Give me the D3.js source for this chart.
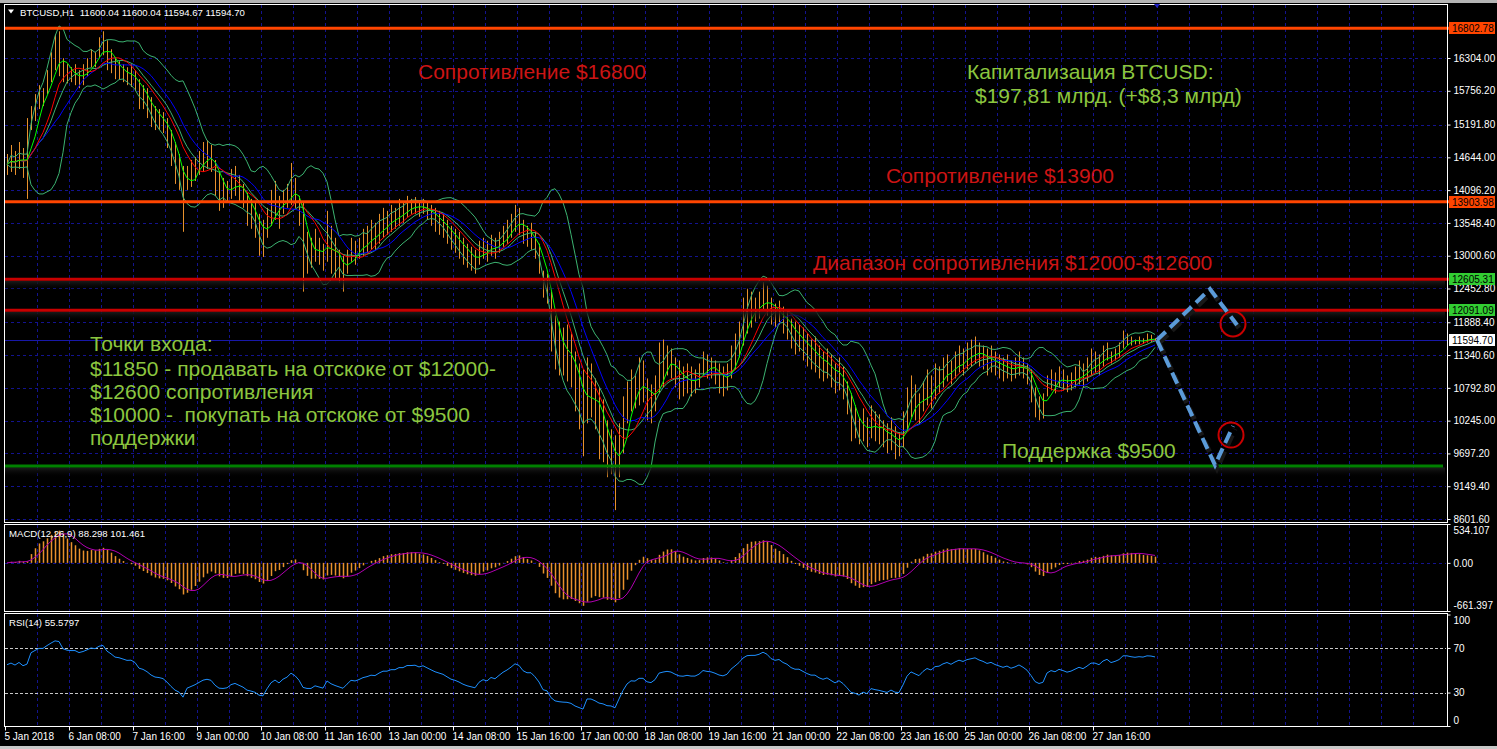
<!DOCTYPE html>
<html><head><meta charset="utf-8">
<script src="https://cdn.jsdelivr.net/npm/d3@7"></script>
<style>
html,body{margin:0;padding:0;background:#000;}
svg{display:block;font-family:"Liberation Sans",Arial,sans-serif;}
text{white-space:pre;}
</style></head><body>
<svg id="c" width="1497" height="749"></svg>
<script>
// ---------------- DATA ----------------
const headerText = "BTCUSD,H1  11600.04 11600.04 11594.67 11594.70";
const macdLabel = "MACD(12,26,9) 88.298 101.461";
const rsiLabel = "RSI(14) 55.5797";
const barHours = 2; // each drawn bar = 2 hours, starting 5 Jan 2018 00:00
const barHigh = [
14700,14850,14750,14900,14800,15300,15500,15700,15850,15800,
16100,16400,16700,16750,16300,16200,16150,16200,16100,16200,
16300,16450,16400,16650,16750,16600,16450,16300,16250,16200,
16150,16200,16100,15950,15850,15800,15650,15500,15450,15400,
15300,15100,14900,14700,14500,14500,14600,14650,14750,14900,
14930,14850,14600,14400,14300,14250,14450,14500,14350,14200,
14050,13950,13900,13700,13600,13800,14100,14250,14000,14100,
14200,14550,14300,14000,13900,13400,13300,13450,13300,13200,
13750,13500,13300,13100,13000,13100,13300,13250,13300,13450,
13500,13600,13550,13700,13800,13750,13850,13800,13950,13900,
14000,13950,13980,13900,13950,13900,13850,13800,13750,13700,
13600,13500,13450,13400,13300,13200,13150,13100,13250,13300,
13250,13350,13300,13400,13500,13600,13700,13850,13800,13600,
13500,13550,13400,13200,12750,12700,12400,12000,11900,11800,
11850,11700,11400,11200,11100,11300,11200,10950,10800,10600,
10250,10100,10000,10200,10650,10900,11100,11000,11300,11250,
10950,10850,11000,11550,11600,11500,11450,11300,11250,11150,
11200,11150,11100,11200,11400,11350,11300,11250,11200,11150,
11200,11500,11700,11900,12300,12450,12400,12300,12400,12560,
12500,12300,12200,12250,12150,12100,11950,11900,11850,11800,
11700,11600,11650,11500,11400,11450,11350,11200,11300,11150,
10900,10700,10500,10300,10450,10300,10500,10400,10350,10250,
10200,10300,10150,10050,10400,10800,11000,10850,10700,10900,
11100,11000,11200,11150,11300,11350,11250,11400,11500,11450,
11550,11600,11650,11550,11500,11450,11500,11400,11350,11300,
11350,11250,11300,11400,11300,11200,11100,10800,10650,10700,
11000,11100,11050,11150,11100,11000,11050,11150,11250,11200,
11300,11450,11400,11350,11500,11550,11400,11450,11550,11750,
11700,11650,11600,11650,11620,11700,11680,11620];
const barLow = [
14350,14400,14350,14450,14300,13950,15100,15250,15450,15500,
15700,15900,16100,16000,15900,15880,15900,15850,15800,15850,
16000,16150,16150,16300,16350,16100,16050,15950,15950,15900,
15850,15820,15750,15450,15450,15300,15150,15100,15100,15050,
14800,14500,14200,14100,13400,14100,14150,14250,14350,14400,
14450,14400,14000,13750,13800,13900,13950,14000,13900,13800,
13500,13450,13300,13000,12980,13300,13500,13600,13450,13700,
13800,13850,13800,13500,12400,12700,12800,12900,12850,12750,
12900,12700,12600,12550,12400,12700,12900,12850,12950,13000,
13050,13100,13100,13200,13300,13350,13400,13450,13500,13550,
13650,13700,13700,13650,13700,13600,13500,13400,13350,13300,
13200,13100,13050,12950,12850,12800,12750,12700,12850,12950,
12900,13000,12950,13050,13150,13200,13300,13400,13350,13200,
13150,13100,12950,12700,12300,12200,11400,11100,11000,11000,
10900,10800,10400,10100,9650,10200,10300,10100,9600,9550,
9300,9350,8750,9300,9700,10200,10400,10450,10500,10550,
10250,10200,10400,10700,10800,11000,10950,10800,10600,10650,
10700,10650,10700,10800,11000,10950,10950,10850,10700,10650,
10750,10950,11100,11300,11500,11700,11800,11900,11950,12100,
12000,11850,11800,11850,11700,11600,11450,11350,11400,11250,
11150,11100,11050,10950,10900,10950,10800,10700,10750,10600,
10350,9900,9950,9850,9900,9800,9950,9900,9850,9800,
9700,9750,9600,9650,9800,10100,10300,10250,10200,10400,
10500,10450,10600,10700,10800,10900,10850,10950,11050,11000,
11100,11150,11200,11150,11100,11000,11050,11000,10950,10900,
10950,10900,10950,11000,10950,10850,10550,10300,10250,10280,
10650,10750,10700,10800,10750,10720,10750,10800,10850,10800,
10900,11000,11050,11000,11150,11250,11200,11250,11300,11450,
11500,11500,11520,11520,11530,11550,11560,11580];
const priceTicks = [16304.00,15756.20,15191.80,14644.00,14096.20,13548.40,13000.60,12452.80,11888.40,11340.60,10792.80,10245.00,9697.20,9149.40,8601.60];
const timeTickHours = [0,32,64,96,128,160,192,224,256,288,320,352,384,416,448,480,512,544];
const timeLabels = ["5 Jan 2018","6 Jan 08:00","7 Jan 16:00","9 Jan 00:00","10 Jan 08:00","11 Jan 16:00","13 Jan 00:00","14 Jan 08:00","15 Jan 16:00","17 Jan 00:00","18 Jan 08:00","19 Jan 16:00","21 Jan 00:00","22 Jan 08:00","23 Jan 16:00","25 Jan 00:00","26 Jan 08:00","27 Jan 16:00"];
const majorResistance = [16802.78, 13903.98];
const rangeResistance = [12605.31, 12091.09];
const supportLevel = [9487];
const lastPrice = 11594.70;
const macdTicks = [534.107, 0, -661.397];
const macdTickText = ["534.107","0.00","-661.397"];
const rsiTicks = [100, 70, 30, 0];
const projUp = [[576,11592],[602.5,12444],[616,11843]];
const projDown = [[576,11592],[605,9504],[614,10155]];
const targetCircles = [[614,11860],[613,10005]];
const redNotes = [["Сопротивление $16800",418,79],["Сопротивление $13900",886,183],["Диапазон сопротивления $12000-$12600",813,270]];
const greenNotes = [["Капитализация BTCUSD:",967,79],["$197,81 млрд. (+$8,3 млрд)",975,103],
 ["Точки входа:",90,351],["$11850 - продавать на отскоке от $12000-",90,376],["$12600 сопротивления",90,399],
 ["$10000 -  покупать на отскоке от $9500",90,422],["поддержки",90,445],["Поддержка $9500",1002,458]];

// ---------------- SCALES ----------------
const svg = d3.select("#c");
const xs = d3.scaleLinear().domain([0,721]).range([5,1447]);
const ys = d3.scaleLinear().domain([8551.5,17206]).range([522,4]);
const ym = d3.scaleLinear().domain([-661.397,534.107]).range([611,524]);
const yr = d3.scaleLinear().domain([0,100]).range([726,614.5]);
const crisp = v => Math.round(v)+0.5;

const GRID = "#13138f";
const BAR = "#e8912d";

svg.append("rect").attr("width",1497).attr("height",749).attr("fill","#000");
svg.append("rect").attr("x",0).attr("y",0).attr("width",1497).attr("height",3).attr("fill","#b4b4b4");
svg.append("rect").attr("x",0).attr("y",746).attr("width",1497).attr("height",3).attr("fill","#c8c8c8");

const defs = svg.append("defs");
[["clipMain",5,5,1442,517],["clipMacd",5,525,1442,86],["clipRsi",5,614,1442,112],["clipWide",5,5,1490,517]].forEach(c=>{
  defs.append("clipPath").attr("id",c[0]).append("rect").attr("x",c[1]).attr("y",c[2]).attr("width",c[3]).attr("height",c[4]);
});
const grad = defs.append("linearGradient").attr("id","shadow").attr("x1",0).attr("y1",0).attr("x2",0).attr("y2",1);
grad.append("stop").attr("offset","0%").attr("stop-color","#1c1c1c");
grad.append("stop").attr("offset","100%").attr("stop-color","#000").attr("stop-opacity",0);

// ---------------- INDICATORS (computed from the bars) ----------------
const mid = barHigh.map((h,i)=>(h+barLow[i])/2);
function sma(a,n){return a.map((_,i)=>d3.mean(a.slice(Math.max(0,i-n+1),i+1)));}
function ema(a,n){const k=2/(n+1);let p=a[0];return a.map(v=>p=p+k*(v-p));}
function sd(a,n){return a.map((_,i)=>{const s=a.slice(Math.max(0,i-n+1),i+1);return s.length>1?Math.sqrt(d3.mean(s.map(v=>(v-d3.mean(s))**2))):0;});}
const maFast = sma(mid,4), maMid = sma(mid,8), maSlow = sma(mid,14);
const bbMid = sma(mid,10), bbSd = sd(mid,10);
const bbUp = bbMid.map((m,i)=>m+2*bbSd[i]), bbLo = bbMid.map((m,i)=>m-2*bbSd[i]);
const e1 = ema(mid,6), e2 = ema(mid,13);
const macd = e1.map((v,i)=>v-e2[i]);
const macdSig = sma(macd,5);
const rsi = (()=>{const n=22;let ag=60,al=50;const out=[55];
  for(let i=1;i<mid.length;i++){const d=mid[i]-mid[i-1];const g=Math.max(d,0),l=Math.max(-d,0);
    ag=(ag*(n-1)+g)/n;al=(al*(n-1)+l)/n;
    out.push(al===0?100:100-100/(1+ag/al));}
  return out;})();
const barX = i => xs(barHours*i + barHours/2);

// ---------------- GRID ----------------
const gGrid = svg.append("g").attr("stroke",GRID).attr("stroke-width",1).attr("stroke-dasharray","3,3");
const vHours = d3.range(16,705,16);
[[5,522],[525,611],[614,726]].forEach(([a,b])=>{
  gGrid.selectAll(null).data(vHours).enter().append("line")
    .attr("x1",d=>crisp(xs(d))).attr("x2",d=>crisp(xs(d))).attr("y1",a).attr("y2",b);
});
gGrid.selectAll(null).data(priceTicks).enter().append("line")
  .attr("x1",5).attr("x2",1446).attr("y1",d=>crisp(ys(d))).attr("y2",d=>crisp(ys(d)));
gGrid.append("line").attr("x1",5).attr("x2",1446).attr("y1",crisp(ym(0))).attr("y2",crisp(ym(0)));
svg.append("g").attr("stroke","#c8c8c8").attr("stroke-dasharray","3,2")
  .selectAll("line").data([70,30]).enter().append("line")
  .attr("x1",5).attr("x2",1446).attr("y1",d=>crisp(yr(d))).attr("y2",d=>crisp(yr(d)));

// last price line
svg.append("line").attr("x1",5).attr("x2",1447).attr("y1",crisp(ys(lastPrice))).attr("y2",crisp(ys(lastPrice)))
  .attr("stroke","#1818a8").attr("stroke-width",1);

// ---------------- PRICE BARS ----------------
const gMain = svg.append("g").attr("clip-path","url(#clipMain)");
gMain.append("g").selectAll("line").data(barHigh).enter().append("line")
  .attr("x1",(d,i)=>crisp(barX(i))).attr("x2",(d,i)=>crisp(barX(i)))
  .attr("y1",d=>ys(d)).attr("y2",(d,i)=>ys(barLow[i]))
  .attr("stroke",BAR).attr("stroke-width",1);

const lineP = d3.line().x((d,i)=>barX(i)).y(d=>ys(d));
[[bbUp,"#3cb371"],[bbLo,"#3cb371"],[bbMid,"#3cb371"],[maSlow,"#0000ff"],[maMid,"#ff0000"],[maFast,"#00ff00"]].forEach(([arr,c])=>{
  gMain.append("path").attr("d",lineP(arr)).attr("fill","none").attr("stroke",c).attr("stroke-width",1);
});

// ---------------- LEVELS ----------------
const gLev = svg.append("g").attr("clip-path","url(#clipWide)");
[...rangeResistance,...supportLevel].forEach(p=>{
  gLev.append("rect").attr("x",5).attr("width",1440).attr("y",ys(p)+1.5).attr("height",10).attr("fill","url(#shadow)");
});
gLev.selectAll(null).data(majorResistance).enter().append("line")
  .attr("x1",5).attr("x2",1449).attr("y1",d=>ys(d)).attr("y2",d=>ys(d)).attr("stroke","#ff4500").attr("stroke-width",3);
gLev.selectAll(null).data(rangeResistance).enter().append("line")
  .attr("x1",5).attr("x2",1449).attr("y1",d=>ys(d)).attr("y2",d=>ys(d)).attr("stroke","#c80000").attr("stroke-width",3);
gLev.selectAll(null).data(supportLevel).enter().append("line")
  .attr("x1",5).attr("x2",1443).attr("y1",d=>ys(d)).attr("y2",d=>ys(d)).attr("stroke","#008000").attr("stroke-width",3);

// ---------------- PROJECTION ----------------
const lineD = d3.line().x(d=>xs(d[0])).y(d=>ys(d[1]));
[projUp,projDown].forEach(p=>{
  svg.append("path").attr("d",lineD(p)).attr("transform","translate(2,3)").attr("fill","none")
    .attr("stroke","#181818").attr("stroke-width",5).attr("stroke-dasharray","12,6");
});
[projUp,projDown].forEach(p=>{
  svg.append("path").attr("d",lineD(p)).attr("fill","none")
    .attr("stroke","#5b9bd8").attr("stroke-width",4).attr("stroke-dasharray","12,6");
});
svg.selectAll(null).data(targetCircles).enter().append("circle")
  .attr("cx",d=>xs(d[0])).attr("cy",d=>ys(d[1])).attr("r",12.5)
  .attr("fill","none").attr("stroke","#c80000").attr("stroke-width",2);

// ---------------- NOTES ----------------
svg.selectAll(null).data(redNotes).enter().append("text")
  .attr("x",d=>d[1]).attr("y",d=>d[2]).text(d=>d[0]).attr("fill","#cc1414").style("font-size","21px");
svg.selectAll(null).data(greenNotes).enter().append("text")
  .attr("x",d=>d[1]).attr("y",d=>d[2]).text(d=>d[0]).attr("fill","#8cc63f").style("font-size","21px");

// ---------------- MACD ----------------
const gM = svg.append("g").attr("clip-path","url(#clipMacd)");
gM.selectAll("line").data(macd).enter().append("line")
  .attr("x1",(d,i)=>crisp(barX(i))).attr("x2",(d,i)=>crisp(barX(i)))
  .attr("y1",ym(0)).attr("y2",d=>ym(d)).attr("stroke",BAR).attr("stroke-width",1.5);
gM.append("path").attr("d",d3.line().x((d,i)=>barX(i)).y(d=>ym(d))(macdSig))
  .attr("fill","none").attr("stroke","#b000b0").attr("stroke-width",1);

// ---------------- RSI ----------------
const gR = svg.append("g").attr("clip-path","url(#clipRsi)");
gR.append("path").attr("d",d3.line().x((d,i)=>barX(i)).y(d=>yr(d))(rsi))
  .attr("fill","none").attr("stroke","#1e90ff").attr("stroke-width",1);

// ---------------- FRAMES ----------------
[[4.5,4.5,1443,518],[4.5,524.5,1443,87],[4.5,613.5,1443,113]].forEach(r=>{
  svg.append("rect").attr("x",r[0]).attr("y",r[1]).attr("width",r[2]).attr("height",r[3])
    .attr("fill","none").attr("stroke","#fff").attr("stroke-width",1);
});

// ---------------- AXES ----------------
function styleAxis(g){
  g.select(".domain").remove();
  g.selectAll("line").attr("stroke","#fff");
  g.selectAll("text").attr("fill","#fff").style("font-size","10px").style("font-family","'Liberation Sans',Arial,sans-serif");
}
const gy = svg.append("g").attr("transform","translate(1447.5,0)")
  .call(d3.axisRight(ys).tickValues(priceTicks).tickFormat(d3.format(".2f")).tickSize(3).tickPadding(3));
styleAxis(gy);

const gmA = svg.append("g").attr("transform","translate(1447.5,0)")
  .call(d3.axisRight(ym).tickValues(macdTicks).tickFormat((d,i)=>macdTickText[i]).tickSize(3).tickPadding(3));
styleAxis(gmA);
gmA.selectAll(".tick text").attr("dy",(d,i)=>i===0?"0.95em":i===2?"-0.3em":"0.32em");

const grA = svg.append("g").attr("transform","translate(1447.5,0)")
  .call(d3.axisRight(yr).tickValues(rsiTicks).tickSize(3).tickPadding(3));
styleAxis(grA);
grA.selectAll(".tick text").attr("dy",d=>d===100?"0.85em":d===0?"-0.25em":"0.32em");

const gx = svg.append("g").attr("transform","translate(0,726.5)")
  .call(d3.axisBottom(xs).tickValues(timeTickHours).tickFormat((d,i)=>timeLabels[i]).tickSize(4).tickPadding(2));
styleAxis(gx);
gx.selectAll(".tick text").attr("text-anchor","start").attr("dx","-1");

// right labels for levels
const boxes = [[majorResistance[0],"#ff4500"],[majorResistance[1],"#ff4500"],[rangeResistance[0],"#32cd32"],[rangeResistance[1],"#32cd32"],[lastPrice,"#ffffff"]];
boxes.forEach(([p,c])=>{
  const y = ys(p);
  svg.append("rect").attr("x",1449).attr("y",Math.round(y)-6).attr("width",46).attr("height",12).attr("fill",c);
  svg.append("text").attr("x",1452).attr("y",Math.round(y)+4).text(d3.format(".2f")(p))
    .attr("fill","#000").style("font-size","10px");
});

// ---------------- HEADER ----------------
svg.append("path").attr("d","M8,9.5 L14,9.5 L11,13.5 Z").attr("fill","#fff");
svg.append("text").attr("x",20).attr("y",16).text(headerText).attr("fill","#fff").style("font-size","9.6px");
svg.append("text").attr("x",9).attr("y",537).text(macdLabel).attr("fill","#fff").style("font-size","9.6px");
svg.append("text").attr("x",9).attr("y",626).text(rsiLabel).attr("fill","#fff").style("font-size","9.6px");
svg.append("path").attr("d","M1154,4 L1160,4 L1157,8 Z").attr("fill","#2020c0");
</script>
</body></html>
